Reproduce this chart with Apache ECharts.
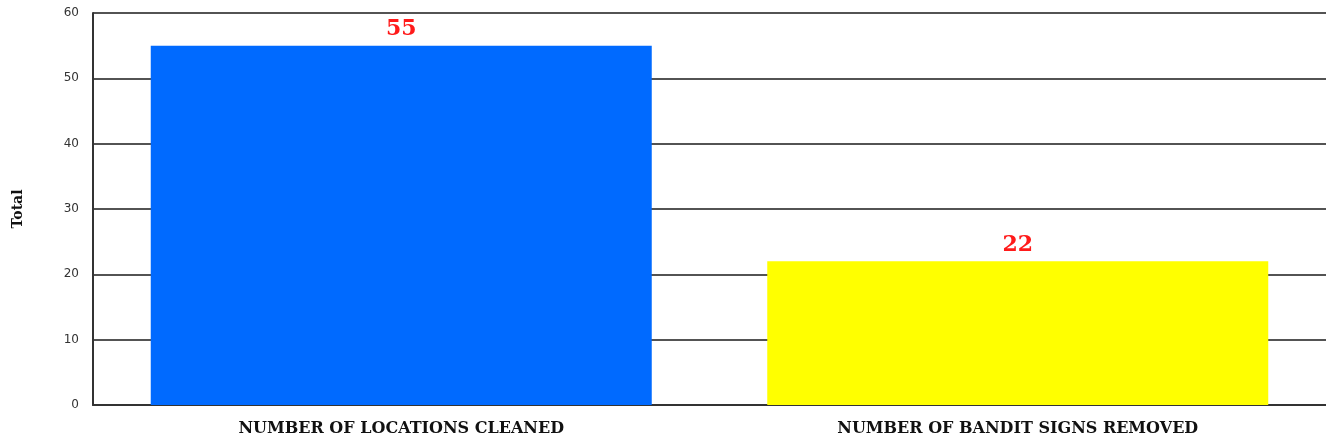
<!DOCTYPE html>
<html>
<head>
<meta charset="utf-8">
<script src="https://cdn.jsdelivr.net/npm/echarts@6/dist/echarts.min.js"></script>
<style>
  html, body { margin: 0; padding: 0; background: #fff; }
  #chart { width: 1326px; height: 442px; }
</style>
</head>
<body>
<div id="chart"></div>
<script>
const categories = ['NUMBER OF LOCATIONS CLEANED', 'NUMBER OF BANDIT SIGNS REMOVED'];
const totals = [55, 22];
const barColors = ['#006aff', '#ffff00'];

const myChart = echarts.init(document.getElementById('chart'));

const option = {
  animation: false,
  grid: { left: 93, right: 0, top: 13, bottom: 37 },
  xAxis: {
    type: 'category',
    data: categories,
    axisLine: { show: true, lineStyle: { color: '#333', width: 2 } },
    axisTick: { show: false },
    axisLabel: {
      color: '#111',
      fontFamily: 'DejaVu Serif',
      fontWeight: 'bold',
      fontSize: 16,
      margin: 16
    }
  },
  yAxis: {
    type: 'value',
    min: 0,
    max: 60,
    interval: 10,
    name: 'Total',
    nameLocation: 'middle',
    nameGap: 68,
    nameTextStyle: {
      color: '#111',
      fontFamily: 'DejaVu Serif',
      fontWeight: 'bold',
      fontSize: 14
    },
    axisLine: { show: true, lineStyle: { color: '#333', width: 2 } },
    axisTick: { show: false },
    axisLabel: {
      color: '#333',
      fontFamily: 'DejaVu Sans',
      fontSize: 12,
      margin: 14
    },
    splitLine: { show: true, lineStyle: { color: '#1a1a1a', width: 1.5 } }
  },
  series: [
    {
      type: 'bar',
      data: totals.map((v, i) => ({ value: v, itemStyle: { color: barColors[i] } })),
      barWidth: 501,
      label: {
        show: true,
        position: 'top',
        distance: 5,
        color: '#ff1a1a',
        fontFamily: 'DejaVu Serif',
        fontWeight: 'bold',
        fontSize: 22
      }
    }
  ]
};

myChart.setOption(option);
window.addEventListener('resize', () => myChart.resize());
</script>
</body>
</html>
